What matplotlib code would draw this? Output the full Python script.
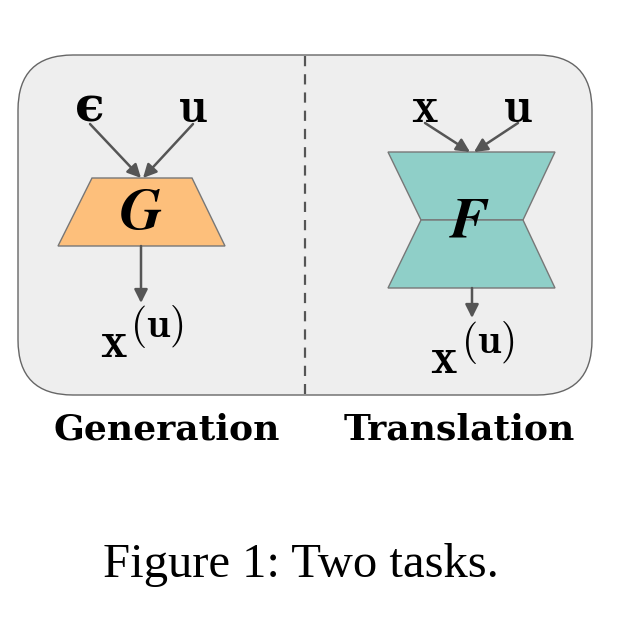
import matplotlib
matplotlib.use("Agg")
import matplotlib.pyplot as plt
from matplotlib.patches import FancyBboxPatch, Polygon

plt.rcParams['mathtext.fontset'] = 'cm'

# labels of the two tasks
task_names = ["Generation", "Translation"]
gen_inputs = ["\u03f5", r"$\mathbf{u}$"]
trans_inputs = [r"$\mathbf{x}$", r"$\mathbf{u}$"]
output_base = r"$\mathbf{x}$"
output_sup = r"$(\mathbf{u})$"
net_names = [r"$\mathbfit{G}$", r"$\mathbfit{F}$"]
caption = "Figure 1: Two tasks."

W, H = 622, 624
fig = plt.figure(figsize=(W / 100, H / 100), dpi=100)
ax = fig.add_axes([0, 0, 1, 1])
ax.set_xlim(0, W)
ax.set_ylim(H, 0)
ax.axis("off")

gray = "#555555"

# rounded background
box = FancyBboxPatch((18 + 55, 55 + 55), 574 - 110, 340 - 110,
                     boxstyle="round,pad=55", fc="#eeeeee", ec="#666666", lw=1.0)
ax.add_patch(box)
ax.plot([304.5, 304.5], [56, 394], ls=(0, (4.6, 3.6)), color=gray, lw=1.6)

arrow = dict(arrowstyle="-|>", color=gray, lw=1.8, mutation_scale=20,
             shrinkA=0, shrinkB=0)

# generation side
ax.text(90, 108, gen_inputs[0], fontsize=35, family="DejaVu Serif", weight="bold",
        ha="center", va="center")
ax.text(193, 108, gen_inputs[1], fontsize=36, ha="center", va="center")
ax.annotate("", xy=(141, 178), xytext=(90, 124), arrowprops=arrow)
ax.annotate("", xy=(143, 178), xytext=(193, 124), arrowprops=arrow)
ax.add_patch(Polygon([(92, 178), (192, 178), (225, 246), (58, 246)],
                     closed=True, fc="#fdbf7b", ec="#777777", lw=1.0))
ax.text(141, 213, net_names[0], fontsize=42, ha="center", va="center")
ax.annotate("", xy=(141, 303), xytext=(141, 246), arrowprops=arrow)
ax.text(114, 343, output_base, fontsize=36, ha="center", va="center")
ax.text(157, 326, output_sup, fontsize=30, ha="center", va="center")

# translation side
ax.text(425, 108, trans_inputs[0], fontsize=36, ha="center", va="center")
ax.text(518, 108, trans_inputs[1], fontsize=36, ha="center", va="center")
ax.annotate("", xy=(470, 152), xytext=(425, 123), arrowprops=arrow)
ax.annotate("", xy=(474, 152), xytext=(518, 123), arrowprops=arrow)
ax.add_patch(Polygon([(388, 152), (555, 152), (523, 220), (421, 220)],
                     closed=True, fc="#8fcfc8", ec="#777777", lw=1.0))
ax.add_patch(Polygon([(421, 220), (523, 220), (555, 288), (388, 288)],
                     closed=True, fc="#8fcfc8", ec="#777777", lw=1.0))
ax.text(470, 221, net_names[1], fontsize=42, ha="center", va="center")
ax.annotate("", xy=(472, 318), xytext=(472, 288), arrowprops=arrow)
ax.text(444, 359, output_base, fontsize=36, ha="center", va="center")
ax.text(488, 342, output_sup, fontsize=30, ha="center", va="center")

# task names and caption
ax.text(167, 430, task_names[0], fontsize=26, family="DejaVu Serif",
        weight="bold", ha="center", va="center")
ax.text(459, 430, task_names[1], fontsize=26, family="DejaVu Serif",
        weight="bold", ha="center", va="center")
ax.text(301, 565, caption, fontsize=35, family="Liberation Serif", ha="center", va="center")

fig.savefig("out.png", dpi=100)
